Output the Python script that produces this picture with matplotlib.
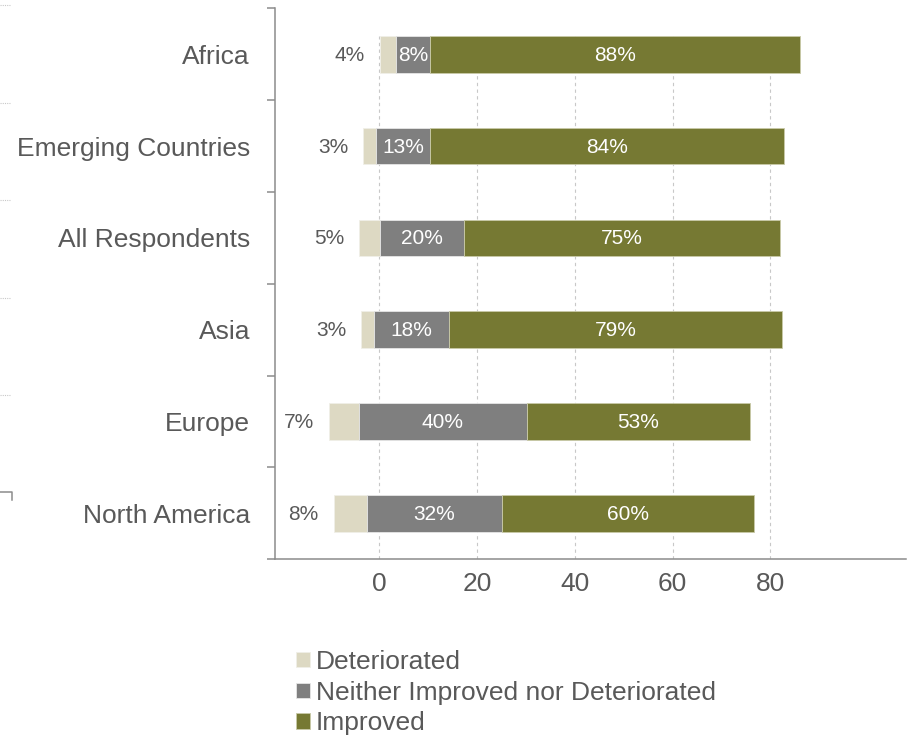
import numpy as np
import matplotlib.pyplot as plt
from matplotlib.lines import Line2D

plt.rcParams['font.family'] = ['Liberation Sans', 'DejaVu Sans']

# data, bottom row first
regions = ['North America', 'Europe', 'Asia', 'All Respondents',
           'Emerging Countries', 'Africa']
deteriorated = [8, 7, 3, 5, 3, 4]
neither = [32, 40, 18, 20, 13, 8]
improved = [60, 53, 79, 75, 84, 88]
# where each bar starts on the axis
bar_start = [-9.3, -10.2, -3.7, -4.1, -3.3, 0.1]
x_ticks = [0, 20, 40, 60, 80]

c_det = '#DDD9C3'
c_nei = '#7F7F7F'
c_imp = '#767933'
txt = '#595959'
axis_col = '#8C8C8C'
scale = 0.86  # axis units per percentage point

fig = plt.figure(figsize=(9.07, 7.37), dpi=100)
ax = fig.add_axes([0.3032, 0.2411, 0.6955, 0.7476])

y = np.arange(len(regions))
det = np.array(deteriorated) * scale
nei = np.array(neither) * scale
imp = np.array(improved) * scale
left = np.array(bar_start)

for xt in x_ticks:
    ax.axvline(xt, ymax=0.95, color='#C8C8C8', lw=0.8, ls=(0, (3, 3)), zorder=0)

ax.barh(y, det, left=left, height=0.4, color=c_det, edgecolor='#F0EFE8',
        lw=0.6, label='Deteriorated', zorder=2)
ax.barh(y, nei, left=left + det, height=0.4, color=c_nei, edgecolor='#E6E6E6',
        lw=0.6, label='Neither Improved nor Deteriorated', zorder=2)
ax.barh(y, imp, left=left + det + nei, height=0.4, color=c_imp,
        edgecolor='#C9CAA8', lw=0.6, label='Improved', zorder=2)

for i in range(len(regions)):
    ax.annotate('%d%%' % deteriorated[i], (left[i], y[i]), xytext=(-15, -1),
                textcoords='offset pixels', ha='right', va='center',
                fontsize=15, color=txt)
    ax.annotate('%d%%' % neither[i], (left[i] + det[i] + nei[i] / 2, y[i]),
                xytext=(0, -1), textcoords='offset pixels', ha='center',
                va='center', fontsize=15, color='white', zorder=3)
    ax.annotate('%d%%' % improved[i], (left[i] + det[i] + nei[i] + imp[i] / 2, y[i]),
                xytext=(0, -1), textcoords='offset pixels', ha='center',
                va='center', fontsize=15, color='white', zorder=3)

ax.set_xlim(-21.3, 107.7)
ax.set_ylim(-0.5, len(regions) - 0.5)

ax.set_xticks(x_ticks)
ax.tick_params(axis='x', length=0, pad=9, labelsize=19, labelcolor=txt)

# ticks on the category boundaries, labels in between
ax.set_yticks(np.arange(-0.5, len(regions), 1))
ax.set_yticklabels([])
ax.set_yticks(y, minor=True)
ax.set_yticklabels(regions, minor=True)
ax.tick_params(axis='y', which='major', length=5.8, width=1.1, color=axis_col)
ax.tick_params(axis='y', which='minor', length=0, pad=18, labelsize=19,
               labelcolor=txt)

for s in ['top', 'right']:
    ax.spines[s].set_visible(False)
for s in ['left', 'bottom']:
    ax.spines[s].set_color(axis_col)
    ax.spines[s].set_linewidth(1.1)

fig.legend(loc='upper left', bbox_to_anchor=(0.3264, 0.118), frameon=False,
           fontsize=19, labelcolor=txt, handlelength=0.53, handleheight=0.53,
           handletextpad=0.23, labelspacing=0.25, borderpad=0, borderaxespad=0)

# bits of the neighbouring chart cut off at the left edge
for yy in [5, 103, 200, 297.7, 395]:
    fig.add_artist(Line2D([0, 11 / 907], [1 - yy / 737] * 2,
                          transform=fig.transFigure, color='#C8C8C8',
                          lw=0.8, ls=(0, (1, 1))))
fig.add_artist(Line2D([0, 11.7 / 907, 11.7 / 907],
                      [1 - 491.7 / 737, 1 - 491.7 / 737, 1 - 500 / 737],
                      transform=fig.transFigure, color=axis_col, lw=1.1))

fig.savefig('out.png', dpi=100)
